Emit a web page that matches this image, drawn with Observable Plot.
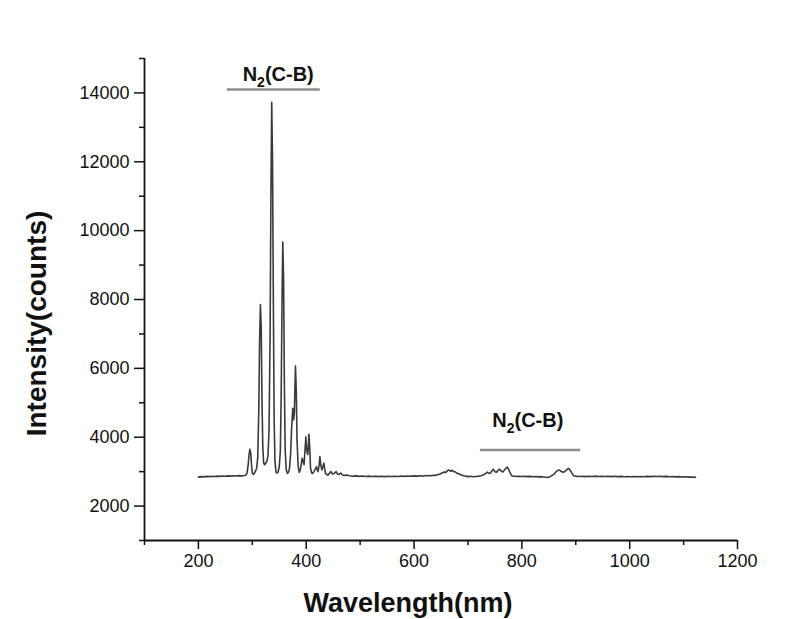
<!DOCTYPE html>
<html><head><meta charset="utf-8">
<script src="https://cdn.jsdelivr.net/npm/d3@7"></script>
<script src="https://cdn.jsdelivr.net/npm/@observablehq/plot@0.6"></script>
<style>
html,body{margin:0;padding:0;background:#fff;}
</style></head><body><div id="chart"></div>
<script>
const wavelength = [
  200,205,210,215,220,225,230,235,240,245,250,255,260,265,270,275,280,285,288,
  290,292,294,295.5,297,298.5,300,302,304,306,308,310,312,313.5,315,316.5,318,319.5,321,323,325,327,329,331,333,334.5,336,337.5,339,340.5,342,344,346,348,350,352,353.5,355,356.5,358,359.5,361,363,365,367,369,371,373,375,376.5,378,380,381.5,383,385,387,389,391,392.5,394,396,398,399.3,401,403,405,406.5,408,410,412,414,416,418,419,420.5,422,424,425.3,427,429,431,432.7,434.5,436,438,440,443,446,449,452,455.5,458,461,464,467,470,475,
  480,486,492,498,504,510,516,522,528,534,540,546,552,558,564,570,576,582,588,594,600,606,612,618,624,630,636,642,648,652,656,659,662,665,668,671,674,677,680,684,688,692,696,700,705,710,715,720,724,728,731,734,736,738,741,744,747,750,753,756,759,762,765,768,771,773,775,778,781,785,790,795,800,805,810,815,820,825,830,835,840,845,848,851,854,857,860,863,866,869,872,875,878,881,884,887,890,893,896,900,906,912,918,924,930,936,942,948,954,960,966,972,978,984,990,996,1002,1008,1014,1020,1026,1032,1038,1044,1050,1056,1062,1068,1074,1080,1086,1092,1098,1104,1110,1116,1122
];
const intensity = [
  2840,2855,2848,2862,2855,2868,2858,2870,2862,2875,2866,2878,2870,2880,2872,2885,2878,2890,2900,
  2950,3150,3500,3650,3550,3200,2960,2920,2960,3020,3100,3400,4800,6800,7850,7200,5000,3700,3250,3200,3250,3300,3450,4200,7000,11000,13730,12000,8000,4500,3300,2980,2960,3000,3150,3600,5200,7800,9670,8600,5500,3600,3050,2950,2980,3100,3500,4300,4840,4500,4700,6070,5400,3900,3150,2980,3050,3250,3390,3300,3200,3700,4015,3600,3500,4085,3700,3100,2960,2950,2990,3050,3100,3145,3050,3000,3200,3435,3200,3050,3150,3245,3050,2940,2920,2900,2950,3000,2930,2950,3000,2930,2920,2960,2910,2890,2900,
  2880,2865,2878,2862,2872,2860,2870,2858,2868,2856,2866,2855,2865,2858,2868,2860,2872,2862,2875,2866,2878,2870,2882,2874,2886,2880,2892,2900,2930,2960,2990,2975,3030,3045,3010,3040,3000,2990,2950,2930,2900,2880,2870,2855,2865,2850,2860,2870,2880,2900,2930,2960,2990,2960,2950,3010,3070,3000,2980,3040,3070,3010,2990,3060,3100,3130,3080,2980,2880,2870,2860,2868,2858,2866,2855,2862,2850,2858,2848,2855,2845,2835,2830,2845,2870,2900,2930,2990,3030,3045,3020,2990,2985,3020,3070,3090,3030,2950,2880,2870,2860,2868,2856,2865,2858,2870,2860,2868,2858,2866,2856,2864,2855,2862,2852,2860,2850,2858,2850,2860,2852,2862,2855,2866,2858,2864,2855,2862,2852,2858,2848,2855,2845,2850,2840,2845,2835
];
const xTicks = [200, 400, 600, 800, 1000, 1200];
const xMinorTicks = [100, 300, 500, 700, 900, 1100];
const yTicks = [2000, 4000, 6000, 8000, 10000, 12000, 14000];
const yMinorTicks = [1000, 3000, 5000, 7000, 9000, 11000, 13000, 15000];
const bandLabels = ["N2(C-B)", "N2(C-B)"];
const bandLabelX = [348, 811];
const bandLabelY = [14360, 4300];
const bandStart = [254, 723];
const bandEnd = [426, 909];
const bandLevel = [14100, 3630];
const xTitle = "Wavelength(nm)";
const yTitle = "Intensity(counts)";

const spectrum = wavelength.map((w, i) => ({w, v: intensity[i]}));
const bands = bandLabels.map((t, i) => ({t, x: bandLabelX[i], y: bandLabelY[i], x1: bandStart[i], x2: bandEnd[i], yb: bandLevel[i]}));
const fmt = d3.format("d");

const plot = Plot.plot({
  width: 800, height: 619,
  marginLeft: 144, marginRight: 63, marginTop: 58, marginBottom: 79,
  style: {fontFamily: "Arial, 'Liberation Sans', sans-serif", background: "#fff", color: "#111"},
  x: {domain: [100, 1200], label: null},
  y: {domain: [1000, 15000], label: null},
  marks: [
    Plot.axisX({ticks: xMinorTicks, tickSize: 5, tickFormat: () => "", strokeWidth: 1.5, label: null}),
    Plot.axisX({ticks: xTicks, tickSize: 9, tickPadding: 5, fontSize: 18, strokeWidth: 1.5, tickFormat: fmt, label: null}),
    Plot.axisY({ticks: yMinorTicks, tickSize: 5, tickFormat: () => "", strokeWidth: 1.5, label: null}),
    Plot.axisY({ticks: yTicks, tickSize: 10, tickPadding: 5, fontSize: 18, strokeWidth: 1.5, tickFormat: fmt, label: null}),
    Plot.ruleX([100], {stroke: "#111", strokeWidth: 1.8}),
    Plot.ruleY([1000], {stroke: "#111", strokeWidth: 1.8}),
    Plot.ruleY(bands, {y: "yb", x1: "x1", x2: "x2", stroke: "#8c8c8c", strokeWidth: 2.5}),
    Plot.line(spectrum, {x: "w", y: "v", stroke: "#3a3a3a", strokeWidth: 1.6}),
    Plot.text(bands, {x: "x", y: "y", text: "t", fontSize: 20, fontWeight: "bold", lineAnchor: "bottom", fill: "#111"}),
    Plot.text([xTitle], {text: d => d, frameAnchor: "bottom", dx: -33, dy: 71, lineAnchor: "bottom", fontSize: 27, fontWeight: "bold", fill: "#111"}),
    Plot.text([yTitle], {text: d => d, frameAnchor: "left", textAnchor: "middle", rotate: -90, dx: -107, dy: 24, lineAnchor: "middle", fontSize: 28, fontWeight: "bold", fill: "#111"})
  ]
});

d3.select(plot).selectAll("text").filter(function() { return this.textContent === bandLabels[0]; }).each(function() {
  const el = d3.select(this);
  const s = this.textContent;
  el.selectAll("*").remove();
  el.text(null);
  el.append("tspan").text(s.slice(0, 1));
  el.append("tspan").attr("dy", 6).attr("font-size", 14).text(s.slice(1, 2));
  el.append("tspan").attr("dy", -6).text(s.slice(2));
});

document.getElementById("chart").appendChild(plot);
</script>
</body></html>
